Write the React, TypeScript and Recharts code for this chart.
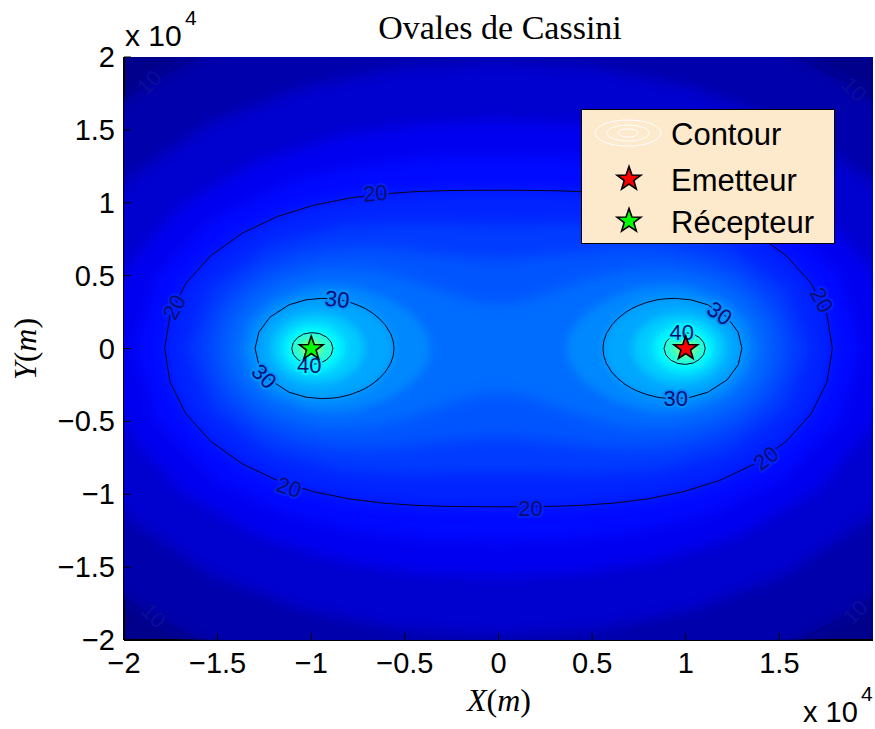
import React from 'react';
import { ComposedChart, Scatter, XAxis, YAxis, CartesianGrid, Legend } from 'recharts';

type Pt = [number, number];

const SANS = "'Liberation Sans', Arial, Helvetica, sans-serif";
const SERIF = "'Liberation Serif', 'Times New Roman', serif";

const xTicks = [-2, -1.5, -1, -0.5, 0, 0.5, 1, 1.5];
const yTicks = [-2, -1.5, -1, -0.5, 0, 0.5, 1, 1.5, 2];

// level curves (units of 1e4 m)
const oval10: Pt[] = [[2.809,0],[2.687,0.72],[2.345,1.354],[2.111,1.62],[1.846,1.846],[1.56,2.033],[1.259,2.18],[0.634,2.367],[0,2.427],[-0.634,2.367],[-1.259,2.18],[-1.56,2.033],[-1.846,1.846],[-2.111,1.62],[-2.345,1.354],[-2.687,0.72],[-2.809,0],[-2.687,-0.72],[-2.345,-1.354],[-2.111,-1.62],[-1.846,-1.846],[-1.56,-2.033],[-1.259,-2.18],[-0.634,-2.367],[0,-2.427],[0.634,-2.367],[1.259,-2.18],[1.56,-2.033],[1.846,-1.846],[2.111,-1.62],[2.345,-1.354],[2.687,-0.72]];
const oval13: Pt[] = [[2.425,0],[2.31,0.619],[1.994,1.151],[1.545,1.545],[1.037,1.796],[0.517,1.929],[0,1.97],[-0.517,1.929],[-1.037,1.796],[-1.545,1.545],[-1.994,1.151],[-2.31,0.619],[-2.425,0],[-2.31,-0.619],[-1.994,-1.151],[-1.545,-1.545],[-1.037,-1.796],[-0.517,-1.929],[0,-1.97],[0.517,-1.929],[1.037,-1.796],[1.545,-1.545],[1.994,-1.151],[2.31,-0.619]];
const oval16: Pt[] = [[2.111,0],[2,0.536],[1.698,0.98],[1.286,1.286],[0.843,1.461],[0.414,1.543],[0,1.567],[-0.414,1.543],[-0.843,1.461],[-1.286,1.286],[-1.698,0.98],[-2,0.536],[-2.111,0],[-2,-0.536],[-1.698,-0.98],[-1.286,-1.286],[-0.843,-1.461],[-0.414,-1.543],[0,-1.567],[0.414,-1.543],[0.843,-1.461],[1.286,-1.286],[1.698,-0.98],[2,-0.536]];
const oval18: Pt[] = [[1.935,0],[1.824,0.489],[1.526,0.881],[1.131,1.131],[0.725,1.256],[0.35,1.308],[0,1.321],[-0.35,1.308],[-0.725,1.256],[-1.131,1.131],[-1.526,0.881],[-1.824,0.489],[-1.935,0],[-1.824,-0.489],[-1.526,-0.881],[-1.131,-1.131],[-0.725,-1.256],[-0.35,-1.308],[0,-1.321],[0.35,-1.308],[0.725,-1.256],[1.131,-1.131],[1.526,-0.881],[1.824,-0.489]];
const oval20: Pt[] = [[1.783,0],[1.754,0.231],[1.67,0.447],[1.537,0.637],[1.369,0.791],[1.18,0.906],[0.984,0.984],[0.793,1.033],[0.613,1.061],[0.446,1.076],[0.29,1.083],[0.143,1.085],[0,1.086],[-0.143,1.085],[-0.29,1.083],[-0.446,1.076],[-0.613,1.061],[-0.793,1.033],[-0.984,0.984],[-1.18,0.906],[-1.369,0.791],[-1.537,0.637],[-1.67,0.447],[-1.754,0.231],[-1.783,0],[-1.754,-0.231],[-1.67,-0.447],[-1.537,-0.637],[-1.369,-0.791],[-1.18,-0.906],[-0.984,-0.984],[-0.793,-1.033],[-0.613,-1.061],[-0.446,-1.076],[-0.29,-1.083],[-0.143,-1.085],[0,-1.086],[0.143,-1.085],[0.29,-1.083],[0.446,-1.076],[0.613,-1.061],[0.793,-1.033],[0.984,-0.984],[1.18,-0.906],[1.369,-0.791],[1.537,-0.637],[1.67,-0.447],[1.754,-0.231]];
const oval22: Pt[] = [[1.653,0],[1.535,0.411],[1.225,0.707],[0.841,0.841],[0.5,0.866],[0.23,0.86],[0,0.856],[-0.23,0.86],[-0.5,0.866],[-0.841,0.841],[-1.225,0.707],[-1.535,0.411],[-1.653,0],[-1.535,-0.411],[-1.225,-0.707],[-0.841,-0.841],[-0.5,-0.866],[-0.23,-0.86],[0,-0.856],[0.23,-0.86],[0.5,-0.866],[0.841,-0.841],[1.225,-0.707],[1.535,-0.411]];
const oval24: Pt[] = [[1.541,0],[1.509,0.199],[1.416,0.379],[1.269,0.526],[1.085,0.626],[0.883,0.678],[0.687,0.687],[0.517,0.674],[0.377,0.653],[0.167,0.623],[0,0.613],[-0.167,0.623],[-0.377,0.653],[-0.517,0.674],[-0.687,0.687],[-0.883,0.678],[-1.085,0.626],[-1.269,0.526],[-1.416,0.379],[-1.509,0.199],[-1.541,0],[-1.509,-0.199],[-1.416,-0.379],[-1.269,-0.526],[-1.085,-0.626],[-0.883,-0.678],[-0.687,-0.687],[-0.517,-0.674],[-0.377,-0.653],[-0.167,-0.623],[0,-0.613],[0.167,-0.623],[0.377,-0.653],[0.517,-0.674],[0.687,-0.687],[0.883,-0.678],[1.085,-0.626],[1.269,-0.526],[1.416,-0.379],[1.509,-0.199]];
const oval26: Pt[] = [[1.447,0],[1.412,0.186],[1.31,0.351],[1.147,0.475],[0.936,0.54],[0.697,0.535],[0.47,0.47],[0.306,0.399],[0.204,0.354],[0.084,0.315],[0,0.305],[-0.084,0.315],[-0.204,0.354],[-0.306,0.399],[-0.47,0.47],[-0.697,0.535],[-0.936,0.54],[-1.147,0.475],[-1.31,0.351],[-1.412,0.186],[-1.447,0],[-1.412,-0.186],[-1.31,-0.351],[-1.147,-0.475],[-0.936,-0.54],[-0.697,-0.535],[-0.47,-0.47],[-0.306,-0.399],[-0.204,-0.354],[-0.084,-0.315],[0,-0.305],[0.084,-0.315],[0.204,-0.354],[0.306,-0.399],[0.47,-0.47],[0.697,-0.535],[0.936,-0.54],[1.147,-0.475],[1.31,-0.351],[1.412,-0.186]];

const right28: Pt[] = [[1.367,0],[1.328,0.175],[1.212,0.325],[1.017,0.421],[0.89,0.434],[0.77,0.418],[0.611,0.354],[0.498,0.27],[0.451,0.22],[0.417,0.173],[0.382,0.102],[0.368,0.048],[0.363,0],[0.368,-0.048],[0.382,-0.102],[0.417,-0.173],[0.451,-0.22],[0.498,-0.27],[0.611,-0.354],[0.77,-0.418],[0.89,-0.434],[1.017,-0.421],[1.212,-0.325],[1.328,-0.175]];
const left28: Pt[] = [[-1.367,0],[-1.328,0.175],[-1.212,0.325],[-1.017,0.421],[-0.89,0.434],[-0.77,0.418],[-0.611,0.354],[-0.498,0.27],[-0.451,0.22],[-0.417,0.173],[-0.382,0.102],[-0.368,0.048],[-0.363,0],[-0.368,-0.048],[-0.382,-0.102],[-0.417,-0.173],[-0.451,-0.22],[-0.498,-0.27],[-0.611,-0.354],[-0.77,-0.418],[-0.89,-0.434],[-1.017,-0.421],[-1.212,-0.325],[-1.328,-0.175]];
const right30: Pt[] = [[1.3,0],[1.28,0.112],[1.221,0.215],[1.118,0.3],[1.028,0.334],[0.946,0.344],[0.889,0.341],[0.847,0.334],[0.791,0.316],[0.741,0.292],[0.71,0.273],[0.676,0.246],[0.638,0.207],[0.605,0.162],[0.576,0.102],[0.562,0.049],[0.558,0],[0.562,-0.049],[0.576,-0.102],[0.605,-0.162],[0.638,-0.207],[0.676,-0.246],[0.71,-0.273],[0.741,-0.292],[0.791,-0.316],[0.847,-0.334],[0.889,-0.341],[0.946,-0.344],[1.028,-0.334],[1.118,-0.3],[1.221,-0.215],[1.28,-0.112]];
const left30: Pt[] = [[-1.3,0],[-1.28,0.112],[-1.221,0.215],[-1.118,0.3],[-1.028,0.334],[-0.946,0.344],[-0.889,0.341],[-0.847,0.334],[-0.791,0.316],[-0.741,0.292],[-0.71,0.273],[-0.676,0.246],[-0.638,0.207],[-0.605,0.162],[-0.576,0.102],[-0.562,0.049],[-0.558,0],[-0.562,-0.049],[-0.576,-0.102],[-0.605,-0.162],[-0.638,-0.207],[-0.676,-0.246],[-0.71,-0.273],[-0.741,-0.292],[-0.791,-0.316],[-0.847,-0.334],[-0.889,-0.341],[-0.946,-0.344],[-1.028,-0.334],[-1.118,-0.3],[-1.221,-0.215],[-1.28,-0.112]];
const right33: Pt[] = [[1.22,0],[1.205,0.084],[1.157,0.163],[1.093,0.213],[1.028,0.237],[0.978,0.244],[0.904,0.236],[0.84,0.21],[0.806,0.186],[0.77,0.15],[0.74,0.104],[0.721,0.05],[0.716,0],[0.721,-0.05],[0.74,-0.104],[0.77,-0.15],[0.806,-0.186],[0.84,-0.21],[0.904,-0.236],[0.978,-0.244],[1.028,-0.237],[1.093,-0.213],[1.157,-0.163],[1.205,-0.084]];
const left33: Pt[] = [[-1.22,0],[-1.205,0.084],[-1.157,0.163],[-1.093,0.213],[-1.028,0.237],[-0.978,0.244],[-0.904,0.236],[-0.84,0.21],[-0.806,0.186],[-0.77,0.15],[-0.74,0.104],[-0.721,0.05],[-0.716,0],[-0.721,-0.05],[-0.74,-0.104],[-0.77,-0.15],[-0.806,-0.186],[-0.84,-0.21],[-0.904,-0.236],[-0.978,-0.244],[-1.028,-0.237],[-1.093,-0.213],[-1.157,-0.163],[-1.205,-0.084]];
const right36: Pt[] = [[1.16,0],[1.149,0.062],[1.115,0.115],[1.064,0.154],[1,0.172],[0.932,0.165],[0.87,0.13],[0.825,0.072],[0.809,0],[0.825,-0.072],[0.87,-0.13],[0.932,-0.165],[1,-0.172],[1.064,-0.154],[1.115,-0.115],[1.149,-0.062]];
const left36: Pt[] = [[-1.16,0],[-1.149,0.062],[-1.115,0.115],[-1.064,0.154],[-1,0.172],[-0.932,0.165],[-0.87,0.13],[-0.825,0.072],[-0.809,0],[-0.825,-0.072],[-0.87,-0.13],[-0.932,-0.165],[-1,-0.172],[-1.064,-0.154],[-1.115,-0.115],[-1.149,-0.062]];
const right38: Pt[] = [[1.129,0],[1.12,0.05],[1.093,0.093],[1.051,0.124],[1,0.137],[0.946,0.13],[0.898,0.102],[0.864,0.056],[0.852,0],[0.864,-0.056],[0.898,-0.102],[0.946,-0.13],[1,-0.137],[1.051,-0.124],[1.093,-0.093],[1.12,-0.05]];
const left38: Pt[] = [[-1.129,0],[-1.12,0.05],[-1.093,0.093],[-1.051,0.124],[-1,0.137],[-0.946,0.13],[-0.898,0.102],[-0.864,0.056],[-0.852,0],[-0.864,-0.056],[-0.898,-0.102],[-0.946,-0.13],[-1,-0.137],[-1.051,-0.124],[-1.093,-0.093],[-1.12,-0.05]];
const right40: Pt[] = [[1.104,0],[1.096,0.04],[1.074,0.074],[1.041,0.099],[1,0.109],[0.958,0.103],[0.92,0.08],[0.894,0.044],[0.884,0],[0.894,-0.044],[0.92,-0.08],[0.958,-0.103],[1,-0.109],[1.041,-0.099],[1.074,-0.074],[1.096,-0.04]];
const left40: Pt[] = [[-1.104,0],[-1.096,0.04],[-1.074,0.074],[-1.041,0.099],[-1,0.109],[-0.958,0.103],[-0.92,0.08],[-0.894,0.044],[-0.884,0],[-0.894,-0.044],[-0.92,-0.08],[-0.958,-0.103],[-1,-0.109],[-1.041,-0.099],[-1.074,-0.074],[-1.096,-0.04]];
const right45: Pt[] = [[1.06,0],[1.043,0.043],[1,0.061],[0.956,0.044],[0.937,0],[0.956,-0.044],[1,-0.061],[1.043,-0.043]];
const left45: Pt[] = [[-1.06,0],[-1.043,0.043],[-1,0.061],[-0.956,0.044],[-0.937,0],[-0.956,-0.044],[-1,-0.061],[-1.043,-0.043]];
const right52: Pt[] = [[1.027,0],[1.019,0.019],[1,0.027],[0.98,0.02],[0.972,0],[0.98,-0.02],[1,-0.027],[1.019,-0.019]];
const left52: Pt[] = [[-1.027,0],[-1.019,0.019],[-1,0.027],[-0.98,0.02],[-0.972,0],[-0.98,-0.02],[-1,-0.027],[-1.019,-0.019]];

// filled levels (dB), inner colour
const fillLevels = [10, 13, 16, 18, 20, 22, 24, 26, 28, 30, 33, 36, 38, 40, 45, 52];
const fillColors = ['#0000ac', '#0000cf', '#0000f0', '#000aff', '#0024ff', '#003cff', '#0055ff', '#006dff', '#0088ff', '#00a6ff', '#00cbff', '#00e9ff', '#00ffff', '#2effd1', '#78ff87', '#d3ff2c'];
const fillShapes: Pt[][][] = [
  [oval10], [oval13], [oval16], [oval18], [oval20], [oval22], [oval24], [oval26],
  [left28, right28], [left30, right30], [left33, right33], [left36, right36],
  [left38, right38], [left40, right40], [left45, right45], [left52, right52],
];

// drawn contour lines
const lineShapes: Pt[][] = [oval20, left30, right30, left40, right40];
const faintLines: Pt[][] = [oval10];

// contour labels
const labelText = ['20', '20', '20', '20', '20', '20', '30', '30', '30', '30', '40', '40', '10', '10', '10', '10'];
const labelX = [-0.658, -1.733, -1.118, 0.171, 1.428, 1.727, -0.861, -1.251, 1.182, 0.947, -1.011, 0.979, -1.866, -1.84, 1.9, 1.904];
const labelY = [1.067, 0.285, -0.95, -1.094, -0.751, 0.333, 0.34, -0.189, 0.244, -0.34, -0.113, 0.113, 1.828, -1.829, 1.78, -1.808];
const labelAngle = [-4, -62, 18, 0, -38, 62, 6, 45, 35, 0, 0, 0, -45, 45, 45, -45];

const emitter = [{ x: 1, y: 0 }];
const receiver = [{ x: -1, y: 0 }];

const toRows = (pts: Pt[]) => pts.map(([x, y]) => ({ x, y }));
const labelRows = labelText.map((t, i) => ({ x: labelX[i], y: labelY[i], t, a: labelAngle[i] }));

const haloFor: Record<string, string> = { '20': '#0020ff', '30': '#0090ff', '40': '#00f4ff', '10': 'none' };

const fmt = (v: number) => (v < 0 ? '\u2212' + Math.abs(v) : String(v));

const blurFor = (level: number) => (level >= 40 ? 'url(#blurS)' : level >= 28 ? 'url(#blurM)' : 'url(#blurL)');

const NoDot = () => <g />;

const starPoints = (cx: number, cy: number, ro: number, ri: number) => {
  const pts: string[] = [];
  for (let i = 0; i < 10; i++) {
    const r = i % 2 === 0 ? ro : ri;
    const a = -Math.PI / 2 + (i * Math.PI) / 5;
    pts.push(`${(cx + r * Math.cos(a)).toFixed(2)},${(cy + r * Math.sin(a)).toFixed(2)}`);
  }
  return pts.join(' ');
};

const StarShape = (color: string) => (p: any) => (
  <polygon points={starPoints(p.cx, p.cy, 12.5, 5)} fill={color} stroke="#000" strokeWidth={1.6} />
);

const LabelShape = (p: any) => {
  const { cx, cy, payload } = p;
  const faint = payload.t === '10';
  return (
    <text
      x={cx}
      y={cy}
      dy="0.36em"
      transform={`rotate(${payload.a} ${cx} ${cy})`}
      textAnchor="middle"
      fontSize={22}
      fontFamily={SANS}
      fill={faint ? '#0c0c9c' : '#0c0c70'}
      stroke={haloFor[payload.t]}
      strokeWidth={faint ? 0 : 4}
      paintOrder="stroke"
    >
      {payload.t}
    </text>
  );
};

const XTick = (p: any) => (
  <g>
    <line x1={p.x} x2={p.x} y1={p.y} y2={p.y - 7} stroke="#000" strokeWidth={1} />
    <text x={p.x} y={p.y + 33} textAnchor="middle" fontSize={29} fontFamily={SANS} fill="#000">
      {fmt(p.payload.value)}
    </text>
  </g>
);
const TopTick = (p: any) => <line x1={p.x} x2={p.x} y1={p.y} y2={p.y + 7} stroke="#000" strokeWidth={1} />;
const YTick = (p: any) => (
  <g>
    <line x1={p.x} x2={p.x + 7} y1={p.y} y2={p.y} stroke="#000" strokeWidth={1} />
    <text x={p.x - 9} y={p.y + 10} textAnchor="end" fontSize={29} fontFamily={SANS} fill="#000">
      {fmt(p.payload.value)}
    </text>
  </g>
);
const RightTick = (p: any) => <line x1={p.x} x2={p.x - 7} y1={p.y} y2={p.y} stroke="#000" strokeWidth={1} />;

const LegendBox = () => (
  <svg width={254} height={135} style={{ display: 'block' }}>
    <rect x={0.5} y={0.5} width={253} height={134} fill="#fde9cc" stroke="#000" strokeWidth={1} />
    <g fill="none" stroke="#fff" strokeWidth={1}>
      <ellipse cx={47} cy={24} rx={33} ry={13} />
      <ellipse cx={47} cy={24} rx={21} ry={8} />
      <ellipse cx={47} cy={24} rx={10} ry={4} />
    </g>
    <polygon points={starPoints(48, 70, 12.5, 5)} fill="#ff0000" stroke="#000" strokeWidth={1.6} />
    <polygon points={starPoints(48, 112, 12.5, 5)} fill="#00ff00" stroke="#000" strokeWidth={1.6} />
    <g fontFamily={SANS} fontSize={31} fill="#000">
      <text x={90} y={36}>Contour</text>
      <text x={90} y={82}>Emetteur</text>
      <text x={90} y={124}>Récepteur</text>
    </g>
  </svg>
);

export default function App() {
  return (
    <div style={{ position: 'absolute', left: 0, top: 0, width: 875, height: 729, background: '#fff' }}>
      <ComposedChart width={875} height={729} margin={{ top: 57, right: 2, bottom: 49, left: 24 }}>
        <defs>
          <filter id="blurL" filterUnits="userSpaceOnUse" x="0" y="0" width="875" height="729" colorInterpolationFilters="sRGB">
            <feGaussianBlur stdDeviation="7" />
          </filter>
          <filter id="blurM" filterUnits="userSpaceOnUse" x="0" y="0" width="875" height="729" colorInterpolationFilters="sRGB">
            <feGaussianBlur stdDeviation="4" />
          </filter>
          <filter id="blurS" filterUnits="userSpaceOnUse" x="0" y="0" width="875" height="729" colorInterpolationFilters="sRGB">
            <feGaussianBlur stdDeviation="2" />
          </filter>
        </defs>
        <CartesianGrid fill="#00008c" fillOpacity={1} horizontal={false} vertical={false} />
        {fillShapes.map((shapes, i) =>
          shapes.map((pts, j) => (
            <Scatter
              key={`band-${fillLevels[i]}-${j}`}
              data={toRows(pts)}
              shape={NoDot}
              line={{ fill: fillColors[i], stroke: 'none', filter: blurFor(fillLevels[i]) }}
              lineJointType="linearClosed"
              legendType="none"
              isAnimationActive={false}
            />
          ))
        )}
        {faintLines.map((pts, i) => (
          <Scatter
            key={`faint-${i}`}
            data={toRows(pts)}
            shape={NoDot}
            line={{ fill: 'none', stroke: '#00007a', strokeWidth: 1 }}
            lineJointType="linearClosed"
            legendType="none"
            isAnimationActive={false}
          />
        ))}
        {lineShapes.map((pts, i) => (
          <Scatter
            key={`line-${i}`}
            data={toRows(pts)}
            shape={NoDot}
            line={{ fill: 'none', stroke: '#050520', strokeWidth: 1 }}
            lineJointType="linearClosed"
            legendType="none"
            isAnimationActive={false}
          />
        ))}
        <Scatter data={labelRows} shape={LabelShape} legendType="none" isAnimationActive={false} />
        <Scatter data={emitter} shape={StarShape('#ff0000')} legendType="none" isAnimationActive={false} />
        <Scatter data={receiver} shape={StarShape('#00ff00')} legendType="none" isAnimationActive={false} />
        <XAxis
          type="number"
          dataKey="x"
          domain={[-2, 2]}
          ticks={xTicks}
          interval={0}
          allowDataOverflow
          height={40}
          tickSize={0}
          tickMargin={0}
          tickLine={false}
          tick={XTick}
          axisLine={{ stroke: '#000', strokeWidth: 2 }}
        />
        <XAxis
          xAxisId="top"
          orientation="top"
          type="number"
          dataKey="x"
          domain={[-2, 2]}
          ticks={xTicks}
          interval={0}
          allowDataOverflow
          height={0}
          tickSize={0}
          tickMargin={0}
          tickLine={false}
          tick={TopTick}
          axisLine={{ stroke: '#000', strokeWidth: 2 }}
        />
        <YAxis
          type="number"
          dataKey="y"
          domain={[-2, 2]}
          ticks={yTicks}
          interval={0}
          allowDataOverflow
          width={100}
          tickSize={0}
          tickMargin={0}
          tickLine={false}
          tick={YTick}
          axisLine={{ stroke: '#000', strokeWidth: 2 }}
        />
        <YAxis
          yAxisId="right"
          orientation="right"
          type="number"
          dataKey="y"
          domain={[-2, 2]}
          ticks={yTicks}
          interval={0}
          allowDataOverflow
          width={0}
          tickSize={0}
          tickMargin={0}
          tickLine={false}
          tick={RightTick}
          axisLine={{ stroke: '#000', strokeWidth: 2 }}
        />
        <Legend
          layout="vertical"
          align="center"
          verticalAlign="middle"
          content={() => <LegendBox />}
          wrapperStyle={{ left: 581, top: 109, width: 254, height: 135 }}
        />
      </ComposedChart>
      <svg
        width={875}
        height={729}
        style={{ position: 'absolute', left: 0, top: 0, pointerEvents: 'none' }}
      >
        <text x={500} y={39} textAnchor="middle" fontFamily={SERIF} fontSize={34} fill="#000">
          Ovales de Cassini
        </text>
        <text x={499} y={711} textAnchor="middle" fontFamily={SERIF} fontSize={32} fill="#000">
          <tspan fontStyle="italic">X</tspan>(<tspan fontStyle="italic">m</tspan>)
        </text>
        <text
          x={0}
          y={0}
          transform="translate(36 349) rotate(-90)"
          textAnchor="middle"
          fontFamily={SERIF}
          fontSize={32}
          fill="#000"
        >
          <tspan fontStyle="italic">Y</tspan>(<tspan fontStyle="italic">m</tspan>)
        </text>
        <g fontFamily={SANS} fill="#000">
          <text x={125} y={46} fontSize={30}>x 10</text>
          <text x={185} y={25} fontSize={21}>4</text>
          <text x={803} y={722} fontSize={29}>x 10</text>
          <text x={861} y={701} fontSize={21}>4</text>
        </g>
      </svg>
    </div>
  );
}
